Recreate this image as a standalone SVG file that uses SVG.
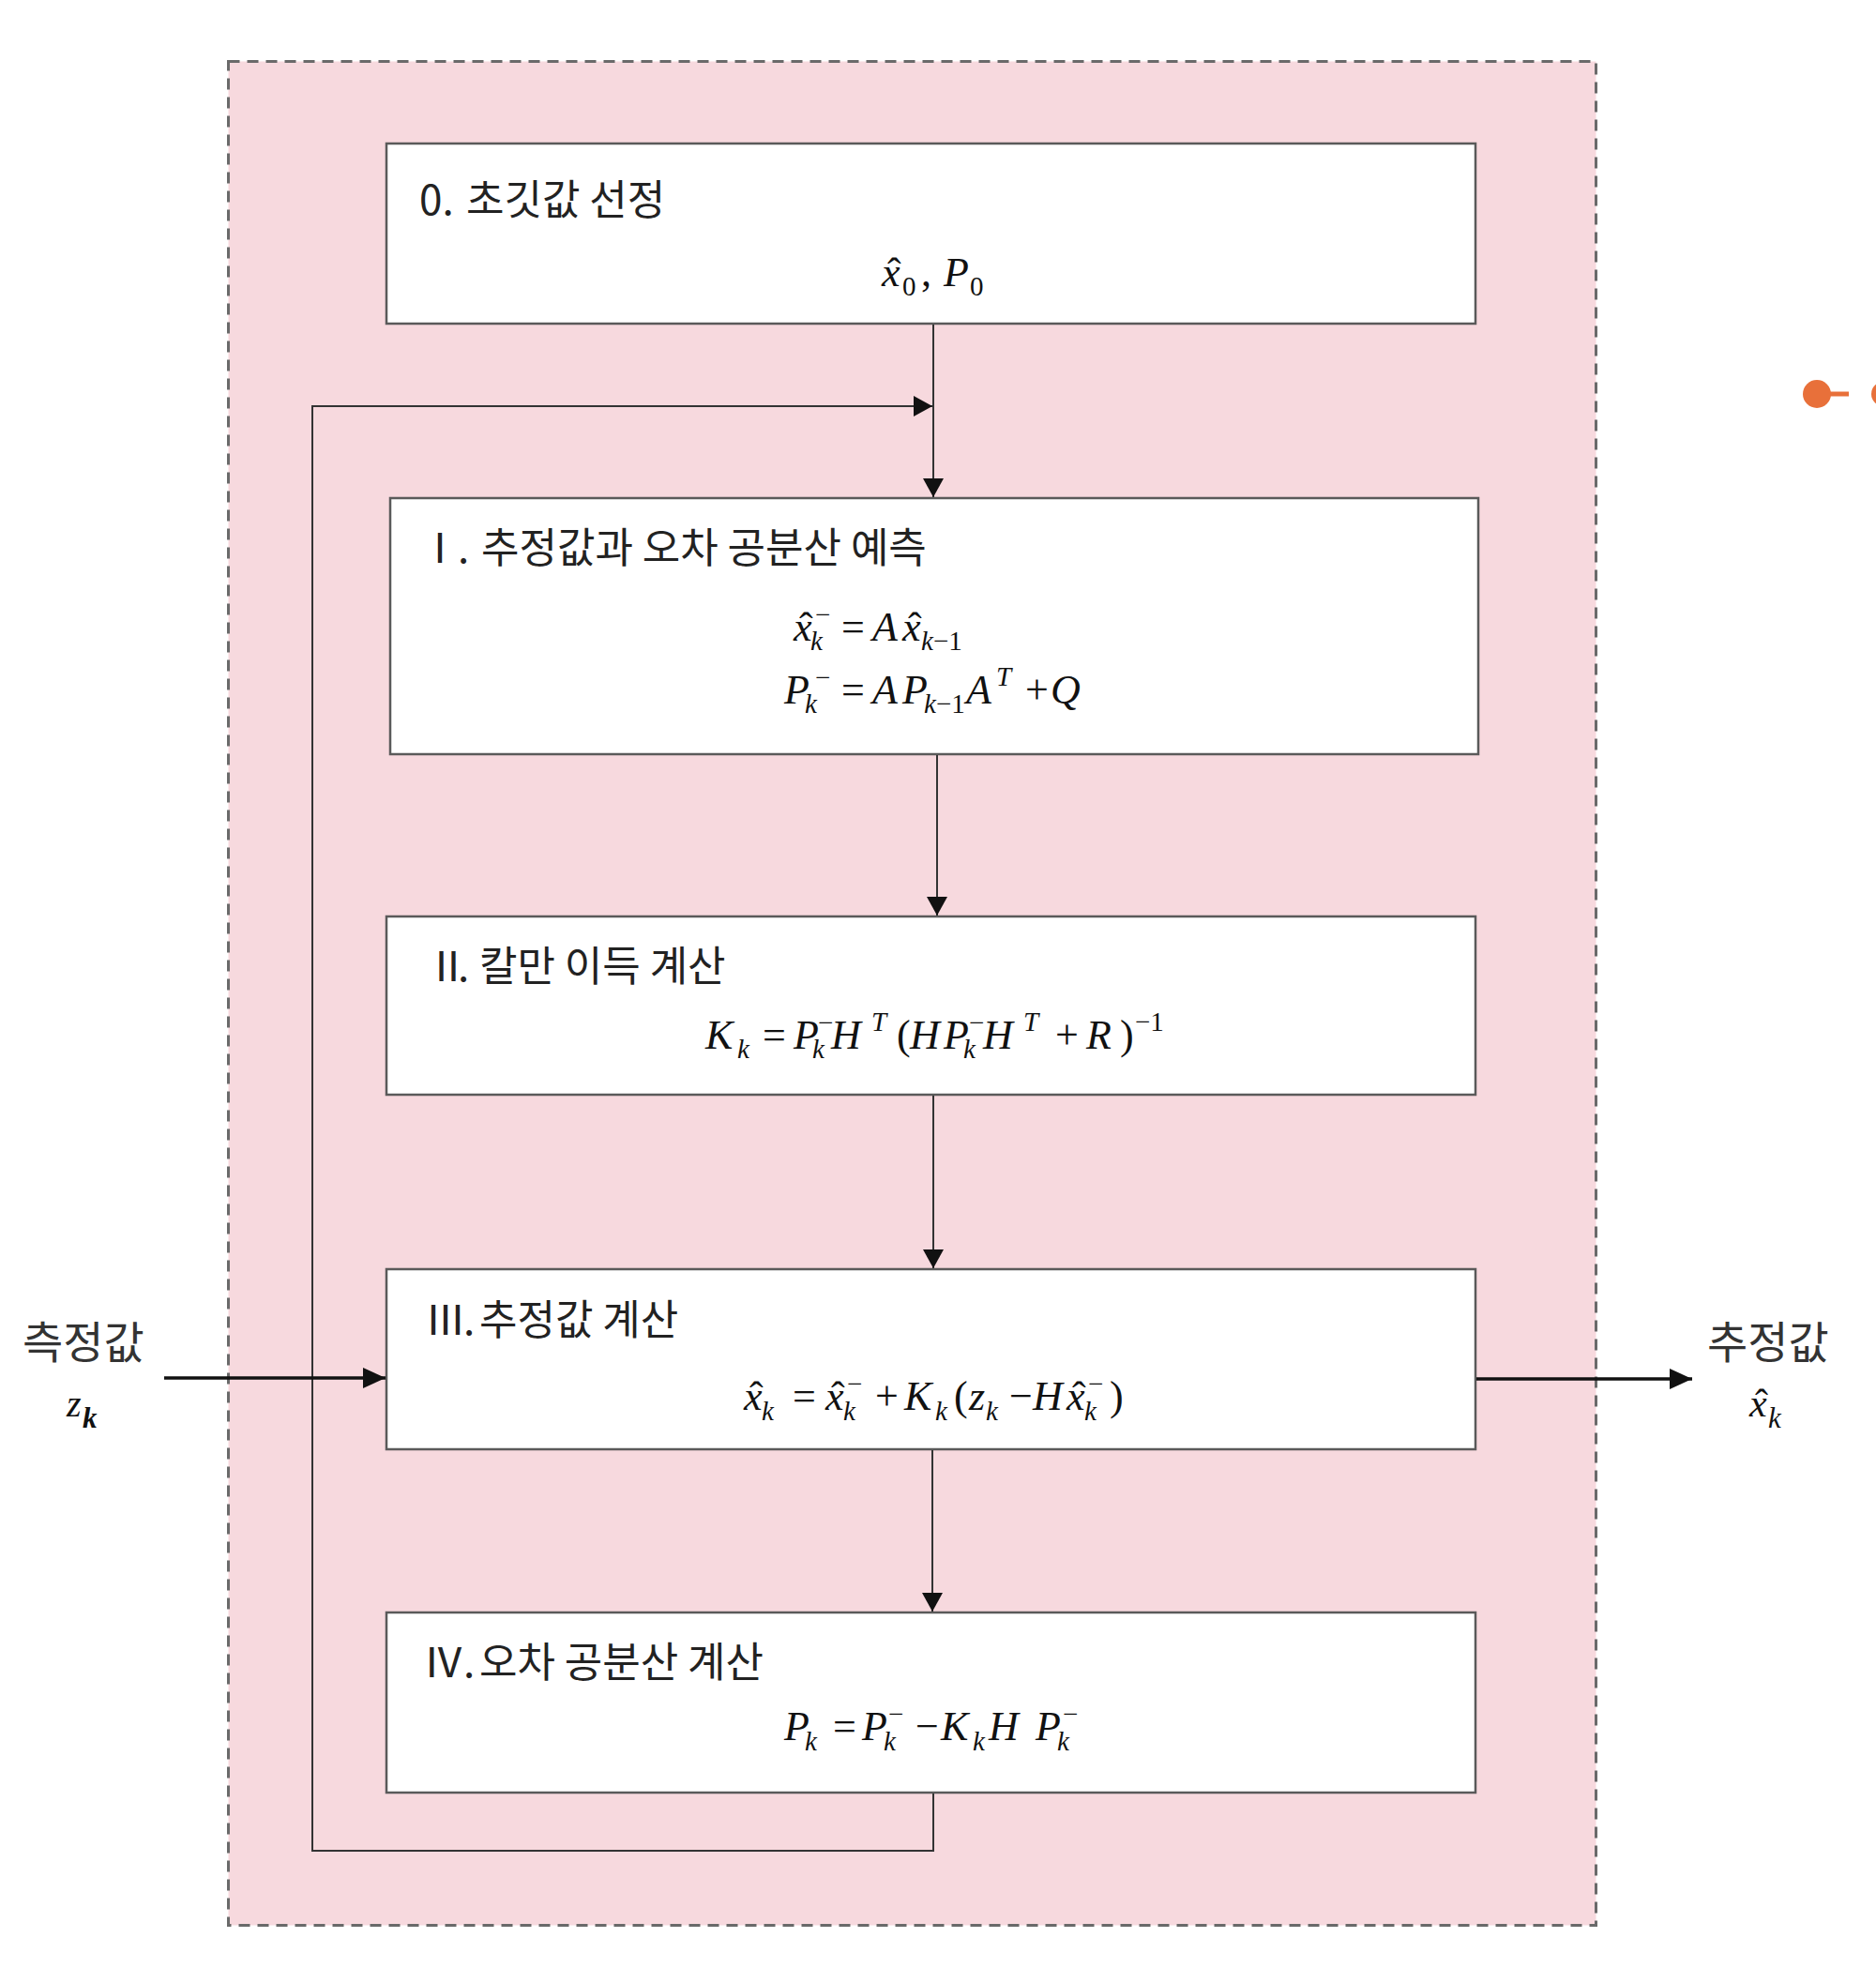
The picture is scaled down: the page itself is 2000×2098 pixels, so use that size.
<svg xmlns="http://www.w3.org/2000/svg" width="2000" height="2098" viewBox="0 0 2000 2098">
<style>
.box{fill:#ffffff;stroke:#5a5a5a;stroke-width:2.5}
.ko{font-family:"Noto Sans CJK KR","Noto Sans",sans-serif;font-size:44px;fill:#222}
.lab{font-family:"Noto Sans CJK KR","Noto Sans",sans-serif;font-size:47px;fill:#333}
.m{font-family:"Liberation Serif","Times New Roman",serif;font-size:44px;fill:#111}
.i{font-style:italic}
.s{font-size:29px}
.h{font-style:normal}
.ln{fill:none;stroke:#333;stroke-width:2}
.thick{fill:none;stroke:#111;stroke-width:3.5}
</style>
<defs>
<marker id="ah" viewBox="0 0 20 22" refX="20" refY="11" markerWidth="20" markerHeight="22" markerUnits="userSpaceOnUse" orient="auto">
<path d="M0,0 L20,11 L0,22 Z" fill="#111"/>
</marker>
<marker id="ahb" viewBox="0 0 24 22" refX="24" refY="11" markerWidth="24" markerHeight="22" markerUnits="userSpaceOnUse" orient="auto">
<path d="M0,0 L24,11 L0,22 Z" fill="#111"/>
</marker>
</defs>
<rect width="2000" height="2098" fill="#ffffff"/>
<g id="container">
<rect x="243.5" y="65.5" width="1458" height="1987" fill="#f7d9de" stroke="#6a6a6a" stroke-width="3" stroke-dasharray="12 8"/>
</g>

<g id="node0">
<rect class="box" x="412" y="153" width="1161" height="192"/>
<text class="ko" x="447" y="229">0.<tspan x="497">초깃값 선정</tspan></text>
<text class="m">
<tspan class="i" x="940" y="305">x</tspan><tspan class="h" x="946" y="305">ˆ</tspan><tspan class="s" x="962" y="315">0</tspan><tspan x="982" y="305">,</tspan><tspan class="i" x="1006" y="305">P</tspan><tspan class="s" x="1034" y="315">0</tspan>
</text>
</g>

<g id="node1">
<rect class="box" x="416" y="531" width="1160" height="273"/>
<text class="ko" y="600"><tspan x="447">Ⅰ</tspan><tspan x="488">.</tspan><tspan x="513">추정값과 오차 공분산 예측</tspan></text>
<text class="m">
<tspan class="i" x="846" y="683">x</tspan><tspan x="852" y="683">ˆ</tspan><tspan class="s" x="869" y="665">−</tspan><tspan class="s i" x="864" y="693">k</tspan><tspan x="897" y="683">=</tspan><tspan class="i" x="930" y="683">A</tspan><tspan class="i" x="962" y="683">x</tspan><tspan x="968" y="683">ˆ</tspan><tspan class="s i" x="982" y="693">k</tspan><tspan class="s">−1</tspan>
</text>
<text class="m">
<tspan class="i" x="836" y="750">P</tspan><tspan class="s" x="869" y="732">−</tspan><tspan class="s i" x="858" y="760">k</tspan><tspan x="897" y="750">=</tspan><tspan class="i" x="930" y="750">A</tspan><tspan class="i" x="962" y="750">P</tspan><tspan class="s i" x="985" y="760">k</tspan><tspan class="s">−1</tspan><tspan class="i" x="1030" y="750">A</tspan><tspan class="s i" x="1062" y="731">T</tspan><tspan x="1093" y="750">+</tspan><tspan class="i" x="1120" y="750">Q</tspan>
</text>
</g>

<g id="node2">
<rect class="box" x="412" y="977" width="1161" height="190"/>
<text class="ko" y="1046"><tspan x="455">Ⅱ</tspan><tspan x="488">.</tspan><tspan x="511">칼만 이득 계산</tspan></text>
<text class="m">
<tspan class="i" x="752" y="1118">K</tspan><tspan class="s i" x="786" y="1128">k</tspan><tspan x="813" y="1118">=</tspan><tspan class="i" x="846" y="1118">P</tspan><tspan class="s" x="872" y="1100">−</tspan><tspan class="s i" x="866" y="1128">k</tspan><tspan class="i" x="886" y="1118">H</tspan><tspan class="s i" x="929" y="1099">T</tspan><tspan x="956" y="1118">(</tspan><tspan class="i" x="970" y="1118">H</tspan><tspan class="i" x="1006" y="1118">P</tspan><tspan class="s" x="1033" y="1100">−</tspan><tspan class="s i" x="1027" y="1128">k</tspan><tspan class="i" x="1048" y="1118">H</tspan><tspan class="s i" x="1091" y="1099">T</tspan><tspan x="1125" y="1118">+</tspan><tspan class="i" x="1158" y="1118">R</tspan><tspan x="1194" y="1118">)</tspan><tspan class="s" x="1210" y="1099">−1</tspan>
</text>
</g>

<g id="node3">
<rect class="box" x="412" y="1353" width="1161" height="192"/>
<text class="ko" y="1423"><tspan x="453">Ⅲ</tspan><tspan x="494">.</tspan><tspan x="511">추정값 계산</tspan></text>
<text class="m">
<tspan class="i" x="793" y="1503">x</tspan><tspan x="799" y="1503">ˆ</tspan><tspan class="s i" x="812" y="1514">k</tspan><tspan x="845" y="1503">=</tspan><tspan class="i" x="880" y="1503">x</tspan><tspan x="886" y="1503">ˆ</tspan><tspan class="s" x="903" y="1485">−</tspan><tspan class="s i" x="899" y="1514">k</tspan><tspan x="933" y="1503">+</tspan><tspan class="i" x="964" y="1503">K</tspan><tspan class="s i" x="997" y="1514">k</tspan><tspan x="1017" y="1503">(</tspan><tspan class="i" x="1033" y="1503">z</tspan><tspan class="s i" x="1051" y="1514">k</tspan><tspan x="1076" y="1503">−</tspan><tspan class="i" x="1101" y="1503">H</tspan><tspan class="i" x="1137" y="1503">x</tspan><tspan x="1143" y="1503">ˆ</tspan><tspan class="s" x="1160" y="1485">−</tspan><tspan class="s i" x="1156" y="1514">k</tspan><tspan x="1183" y="1503">)</tspan>
</text>
</g>

<g id="node4">
<rect class="box" x="412" y="1719" width="1161" height="192"/>
<text class="ko" y="1788"><tspan x="451">Ⅳ</tspan><tspan x="494">.</tspan><tspan x="511">오차 공분산 계산</tspan></text>
<text class="m">
<tspan class="i" x="836" y="1855">P</tspan><tspan class="s i" x="858" y="1866">k</tspan><tspan x="888" y="1855">=</tspan><tspan class="i" x="919" y="1855">P</tspan><tspan class="s" x="947" y="1837">−</tspan><tspan class="s i" x="942" y="1866">k</tspan><tspan x="976" y="1855">−</tspan><tspan class="i" x="1003" y="1855">K</tspan><tspan class="s i" x="1037" y="1866">k</tspan><tspan class="i" x="1054" y="1855">H</tspan><tspan class="i" x="1104" y="1855">P</tspan><tspan class="s" x="1133" y="1837">−</tspan><tspan class="s i" x="1127" y="1866">k</tspan>
</text>
</g>

<g id="input">
<text class="lab" x="24" y="1448">측정값</text>
<text class="m" fill="#444"><tspan class="i" x="71" y="1510" font-size="40">z</tspan><tspan class="i" x="88" y="1522" font-size="31" font-weight="bold">k</tspan></text>
</g>

<g id="output">
<text class="lab" x="1820" y="1448">추정값</text>
<text class="m" fill="#444"><tspan class="i" x="1865" y="1510" font-size="42">x</tspan><tspan x="1871" y="1510" font-size="42">ˆ</tspan><tspan class="i" x="1885" y="1522" font-size="31">k</tspan></text>
</g>

<g id="connectors">
<path class="ln" d="M995 346 V530" marker-end="url(#ah)"/>
<path class="ln" d="M995 1912 V1973 H333 V433 H994" marker-end="url(#ah)"/>
<path class="ln" d="M999 805 V976" marker-end="url(#ah)"/>
<path class="ln" d="M995 1168 V1352" marker-end="url(#ah)"/>
<path class="ln" d="M994 1546 V1718" marker-end="url(#ah)"/>
<path class="thick" d="M175 1469 H411" marker-end="url(#ahb)"/>
<path class="thick" d="M1574 1470 H1804" marker-end="url(#ahb)"/>
</g>

<g id="marker-dot">
<circle cx="1937" cy="420" r="15" fill="#e8703a"/>
<line x1="1950" y1="420" x2="1971" y2="420" stroke="#e8703a" stroke-width="5"/>
<circle cx="2008" cy="420" r="13" fill="#e8703a"/>
</g>
</svg>
